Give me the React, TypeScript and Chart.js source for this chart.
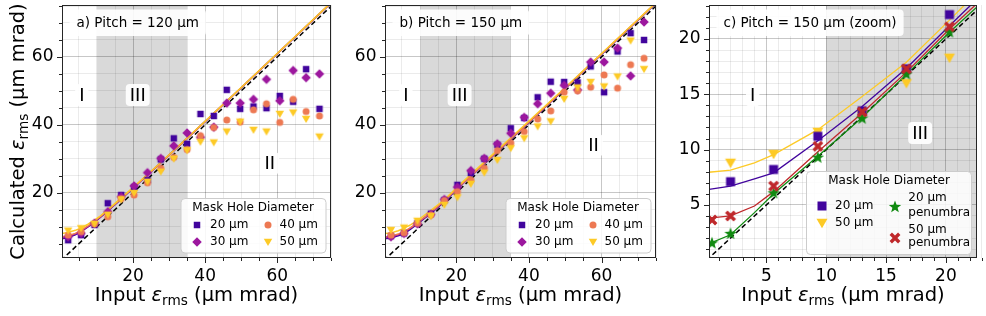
import React, { useEffect, useRef } from 'react';
import { Chart, registerables } from 'chart.js';

Chart.register(...registerables);

const FONT = '"DejaVu Sans", sans-serif';

// ---------------- data ----------------
const inputEmittance = [2.0, 5.6, 9.3, 13.0, 16.7, 20.3, 24.0, 27.7, 31.3, 35.0, 38.7, 42.4, 46.0, 49.7, 53.4, 57.0, 60.7, 64.4, 68.0, 71.7];

// a) Pitch = 120 µm
const p120_20um = [6.0, 7.5, 10.5, 16.9, 19.3, 21.6, 23.7, 29.8, 36.0, 34.4, 43.2, 42.6, 50.3, 44.7, 45.4, 44.9, 48.5, 46.8, 56.4, 44.7];
const p120_30um = [7.0, 8.0, 11.0, 14.4, 18.8, 22.0, 25.9, 30.1, 33.8, 37.6, 36.3, 39.3, 46.4, 46.4, 47.5, 53.4, 47.1, 56.0, 53.9, 55.0];
const p120_40um = [7.5, 8.5, 10.8, 12.9, 18.2, 19.3, 22.9, 27.2, 30.4, 32.7, 36.8, 39.2, 41.4, 40.8, 44.4, 46.2, 40.7, 47.5, 43.9, 42.6];
const p120_50um = [8.8, 9.5, 10.8, 13.5, 18.0, 19.9, 23.2, 26.2, 30.0, 32.5, 35.0, 34.8, 38.0, 40.9, 38.5, 38.0, 43.2, 43.6, 41.7, 36.5];

// b) Pitch = 150 µm
const p150_20um = [7.2, 8.0, 11.0, 13.8, 17.8, 22.3, 25.8, 30.0, 34.1, 39.0, 42.0, 48.1, 52.7, 52.6, 52.5, 57.2, 49.6, 61.6, 67.0, 65.0];
const p150_30um = [7.0, 8.0, 10.8, 13.6, 18.0, 21.6, 26.5, 30.1, 34.4, 37.5, 42.2, 46.2, 49.3, 51.6, 50.3, 58.5, 58.5, 62.6, 54.4, 70.3];
const p150_40um = [7.5, 8.2, 11.0, 13.4, 17.7, 20.3, 23.7, 27.2, 32.4, 34.6, 38.0, 41.7, 44.1, 49.6, 50.0, 51.1, 54.7, 50.8, 57.7, 59.6];
const p150_50um = [9.0, 9.7, 11.7, 13.1, 16.4, 18.6, 22.6, 25.9, 29.6, 33.1, 36.0, 39.5, 41.0, 47.6, 51.0, 52.6, 51.3, 54.2, 64.8, 56.4];

// fitted curves (a, b)
const fitX = [0.3, 2.0, 4.0, 5.6, 7.5, 9.3, 11.0, 13.0, 16.7, 20.3, 27.7, 35.0, 50.0, 75.0];
const fitA20 = [6.4, 6.8, 7.6, 8.5, 9.9, 11.3, 12.8, 14.6, 18.1, 21.6, 28.8, 36.0, 50.9, 76.0];
const fitA30 = [6.7, 7.1, 7.8, 8.7, 10.0, 11.4, 12.9, 14.7, 18.2, 21.6, 28.8, 36.0, 50.9, 76.0];
const fitA40 = [7.0, 7.3, 8.0, 8.9, 10.2, 11.5, 13.0, 14.8, 18.2, 21.7, 28.8, 36.0, 50.9, 76.0];
const fitA50 = [8.0, 8.3, 8.9, 9.6, 10.7, 11.9, 13.2, 15.0, 18.4, 21.8, 28.9, 36.1, 51.0, 76.1];
const fitB20 = [6.4, 6.7, 7.3, 7.9, 9.3, 10.8, 12.3, 13.9, 17.35, 21.2, 28.5, 35.7, 50.7, 75.8];
const fitB30 = [6.7, 7.0, 7.6, 8.3, 9.6, 11.0, 12.5, 14.1, 17.5, 21.3, 28.6, 35.8, 50.8, 75.9];
const fitB40 = [6.9, 7.2, 7.8, 8.5, 9.8, 11.1, 12.6, 14.2, 17.6, 21.3, 28.6, 35.8, 50.8, 75.9];
const fitB50 = [7.95, 8.15, 8.8, 9.55, 10.6, 11.8, 13.2, 14.8, 17.9, 21.7, 29.0, 36.2, 51.0, 76.0];

// c) Pitch = 150 µm (zoom)
const zoomX = [2.0, 5.6, 9.3, 13.0, 16.7, 20.3];
const zoomPenX = [0.45, 2.0, 5.6, 9.3, 13.0, 16.7, 20.3];
const zoom20um = [7.1, 8.2, 11.2, 13.5, 17.3, 22.2];
const zoom50um = [8.8, 9.6, 11.6, 13.1, 16.0, 18.3];
const zoom20umPen = [1.53, 2.38, 6.05, 9.27, 12.8, 16.8, 20.6];
const zoom50umPen = [3.64, 4.0, 6.7, 10.3, 13.4, 17.3, 21.1];
const fitZoomX = [0.2, 2.0, 4.0, 5.6, 9.3, 13.0, 16.7, 20.3, 22.6];
const fitZoom20 = [6.4, 6.7, 7.35, 7.9, 10.8, 13.9, 17.35, 21.2, 23.6];
const fitZoom50 = [7.95, 8.15, 8.8, 9.55, 11.8, 14.8, 17.9, 21.7, 24.2];
const fitZoom20Pen = [1.5, 2.3, 4.3, 6.0, 9.4, 12.9, 16.8, 20.6, 22.9];
const fitZoom50Pen = [3.8, 4.0, 4.9, 6.2, 9.8, 13.3, 17.0, 20.9, 23.2];

const identityLine = [0, 80];

// ticks
const ticksAB = [5, 10, 15, 20, 25, 30, 35, 40, 45, 50, 55, 60, 65, 70, 75];
const labelsAB = [20, 40, 60];
const ticksC = [1, 2, 3, 4, 5, 6, 7, 8, 9, 10, 11, 12, 13, 14, 15, 16, 17, 18, 19, 20, 21, 22, 23];
const labelsC = [5, 10, 15, 20];

// colours
const C20 = '#41049d';
const C30 = '#9c179e';
const C40 = '#ed7953';
const C50 = '#fdca26';
const CPEN20 = '#108a10';
const CPEN50 = '#bf282b';

// ---------------- helpers ----------------
type Pt = { x: number; y: number };
const pts = (xs: number[], ys: number[]): Pt[] => ys.map((y, i) => ({ x: xs[i], y }));

function makeMarker(shape: string, color: string, size: number): HTMLCanvasElement {
  let dim = Math.ceil(size * 1.6) + 4;
  if (dim % 2) dim += 1;
  const cv = document.createElement('canvas');
  cv.width = dim;
  cv.height = dim;
  const g = cv.getContext('2d')!;
  g.translate(dim / 2, dim / 2);
  g.fillStyle = color;
  const r = size / 2;
  g.beginPath();
  if (shape === 'square') {
    g.rect(-r, -r, size, size);
  } else if (shape === 'diamond') {
    g.moveTo(0, -r); g.lineTo(r, 0); g.lineTo(0, r); g.lineTo(-r, 0); g.closePath();
  } else if (shape === 'circle') {
    g.arc(0, 0, r, 0, Math.PI * 2);
  } else if (shape === 'triangleDown') {
    g.moveTo(-r, -r * 0.78); g.lineTo(r, -r * 0.78); g.lineTo(0, r * 0.95); g.closePath();
  } else if (shape === 'star') {
    for (let i = 0; i < 10; i++) {
      const a = -Math.PI / 2 + (i * Math.PI) / 5;
      const rr = i % 2 === 0 ? r : r * 0.42;
      const px = rr * Math.cos(a);
      const py = rr * Math.sin(a);
      if (i === 0) g.moveTo(px, py); else g.lineTo(px, py);
    }
    g.closePath();
  } else if (shape === 'x') {
    g.rotate(Math.PI / 4);
    const w = r * 0.34;
    const L = r * 1.2;
    const P = [[-w, -L], [w, -L], [w, -w], [L, -w], [L, w], [w, w], [w, L], [-w, L], [-w, w], [-L, w], [-L, -w], [-w, -w]];
    P.forEach(([px, py], i) => (i ? g.lineTo(px, py) : g.moveTo(px, py)));
    g.closePath();
  }
  g.fill();
  return cv;
}

function roundRect(ctx: CanvasRenderingContext2D, x: number, y: number, w: number, h: number, r: number) {
  ctx.beginPath();
  ctx.moveTo(x + r, y);
  ctx.lineTo(x + w - r, y);
  ctx.arcTo(x + w, y, x + w, y + r, r);
  ctx.lineTo(x + w, y + h - r);
  ctx.arcTo(x + w, y + h, x + w - r, y + h, r);
  ctx.lineTo(x + r, y + h);
  ctx.arcTo(x, y + h, x, y + h - r, r);
  ctx.lineTo(x, y + r);
  ctx.arcTo(x, y, x + r, y, r);
  ctx.closePath();
}

function drawEmittanceTitle(ctx: CanvasRenderingContext2D, prefix: string, cx: number, cy: number, vertical: boolean) {
  const size = 19.5;
  const parts = [
    { t: prefix, f: `${size}px ${FONT}`, dy: 0 },
    { t: 'ε', f: `italic ${size}px ${FONT}`, dy: 0 },
    { t: 'rms', f: `${size * 0.7}px ${FONT}`, dy: size * 0.22 },
    { t: ' (µm mrad)', f: `${size}px ${FONT}`, dy: 0 },
  ];
  ctx.save();
  ctx.translate(cx, cy);
  if (vertical) ctx.rotate(-Math.PI / 2);
  let total = 0;
  const widths = parts.map((p) => {
    ctx.font = p.f;
    const w = ctx.measureText(p.t).width;
    total += w;
    return w;
  });
  let x = -total / 2;
  ctx.fillStyle = '#000';
  ctx.textBaseline = 'alphabetic';
  ctx.textAlign = 'left';
  parts.forEach((p, i) => {
    ctx.font = p.f;
    ctx.fillText(p.t, x, p.dy);
    x += widths[i];
  });
  ctx.restore();
}

interface LegendItem { marker: HTMLCanvasElement; mx: number; my: number; lines: { t: string; x: number; y: number }[] }
interface Panel {
  area: { left: number; right: number; top: number; bottom: number };
  xr: [number, number];
  yr: [number, number];
  xTicks: number[];
  yTicks: number[];
  xLabels: number[];
  yLabels: number[];
  shade: [number, number];
  datasets: any[];
  tag: string;
  yTitle: boolean;
  regions: { t: string; x: number; y: number }[];
  legend: { box: [number, number, number, number]; title: [number, number]; items: LegendItem[] };
}

function scatterDs(xs: number[], ys: number[], marker: HTMLCanvasElement, order: number) {
  return { data: pts(xs, ys), pointStyle: marker, pointRadius: 4, showLine: false, order };
}
function lineDs(xs: number[], ys: number[], color: string, width: number, order: number, dash?: number[]) {
  return {
    data: pts(xs, ys),
    showLine: true,
    borderColor: color,
    backgroundColor: color,
    borderWidth: width,
    borderDash: dash || [],
    pointRadius: 0,
    fill: false,
    tension: 0,
    order,
  };
}

function axisOpts(range: [number, number], ticks: number[], labels: number[], horiz: boolean) {
  return {
    type: 'linear',
    min: range[0],
    max: range[1],
    afterBuildTicks: (s: any) => {
      s.ticks = ticks.map((v) => ({ value: v }));
    },
    afterFit: (s: any) => {
      if (horiz) s.height = 40;
      else s.width = 50;
      s.paddingTop = 0;
      s.paddingBottom = 0;
      s.paddingLeft = 0;
      s.paddingRight = 0;
    },
    ticks: {
      autoSkip: false,
      maxRotation: 0,
      minRotation: 0,
      padding: horiz ? 8 : 8.5,
      color: '#000',
      font: { family: FONT, size: 17 },
      callback: (v: any) => (labels.includes(v) ? String(v) : ''),
    },
    grid: {
      drawTicks: false,
      lineWidth: 1,
      color: (c: any) => (c.tick && labels.includes(c.tick.value) ? 'rgba(0,0,0,0.22)' : 'rgba(0,0,0,0.08)'),
    },
    border: { display: false },
  };
}

function panelPlugin(p: Panel) {
  return {
    id: 'panelDecor',
    beforeDraw(chart: any) {
      const { ctx, chartArea: ca, scales } = chart;
      ctx.save();
      ctx.fillStyle = '#d9d9d9';
      const x0 = Math.max(scales.x.getPixelForValue(p.shade[0]), ca.left);
      const x1 = Math.min(scales.x.getPixelForValue(p.shade[1]), ca.right);
      ctx.fillRect(x0, ca.top, x1 - x0, ca.bottom - ca.top);
      ctx.restore();
    },
    afterDraw(chart: any) {
      const { ctx, chartArea: ca, scales } = chart;
      ctx.save();
      // region labels
      ctx.font = `18px ${FONT}`;
      ctx.textAlign = 'center';
      ctx.textBaseline = 'middle';
      p.regions.forEach((r) => {
        const px = scales.x.getPixelForValue(r.x);
        const py = scales.y.getPixelForValue(r.y);
        const w = ctx.measureText(r.t).width + 8;
        ctx.fillStyle = 'rgba(255,255,255,0.92)';
        roundRect(ctx, px - w / 2, py - 11, w, 22, 4);
        ctx.fill();
        ctx.fillStyle = '#000';
        ctx.fillText(r.t, px, py + 1);
      });
      // tag box
      ctx.font = `13.5px ${FONT}`;
      ctx.textAlign = 'left';
      const tw = ctx.measureText(p.tag).width;
      const tx = ca.left + 14.5;
      ctx.fillStyle = 'rgba(255,255,255,0.9)';
      roundRect(ctx, tx - 7, 9.5, tw + 14, 26.5, 4);
      ctx.fill();
      ctx.fillStyle = '#000';
      ctx.fillText(p.tag, tx, 23);
      // legend
      ctx.font = `12px ${FONT}`;
      const [bx, by, bw, bh] = p.legend.box;
      ctx.fillStyle = 'rgba(255,255,255,0.85)';
      ctx.strokeStyle = '#cccccc';
      ctx.lineWidth = 1;
      roundRect(ctx, bx + 0.5, by + 0.5, bw, bh, 4);
      ctx.fill();
      ctx.stroke();
      ctx.fillStyle = '#000';
      ctx.textAlign = 'center';
      ctx.fillText('Mask Hole Diameter', p.legend.title[0], p.legend.title[1]);
      ctx.textAlign = 'left';
      p.legend.items.forEach((it) => {
        ctx.drawImage(it.marker, Math.round(it.mx - it.marker.width / 2), Math.round(it.my - it.marker.height / 2));
        it.lines.forEach((l) => ctx.fillText(l.t, l.x, l.y));
      });
      // frame
      ctx.strokeStyle = '#262626';
      ctx.lineWidth = 1;
      ctx.strokeRect(ca.left + 0.5, ca.top + 0.5, ca.right - ca.left - 1, ca.bottom - ca.top - 1);
      // tick marks
      ctx.beginPath();
      scales.x.ticks.forEach((t: any) => {
        const px = Math.round(scales.x.getPixelForValue(t.value)) + 0.5;
        const len = p.xLabels.includes(t.value) ? 5 : 3;
        ctx.moveTo(px, ca.bottom);
        ctx.lineTo(px, ca.bottom + len);
      });
      scales.y.ticks.forEach((t: any) => {
        const py = Math.round(scales.y.getPixelForValue(t.value)) + 0.5;
        const len = p.yLabels.includes(t.value) ? 5 : 3;
        ctx.moveTo(ca.left, py);
        ctx.lineTo(ca.left - len, py);
      });
      ctx.stroke();
      // axis titles
      drawEmittanceTitle(ctx, 'Input ', (ca.left + ca.right) / 2, 301, false);
      if (p.yTitle) drawEmittanceTitle(ctx, 'Calculated ', 24, (ca.top + ca.bottom) / 2, true);
      ctx.restore();
    },
  };
}

function buildConfig(p: Panel): any {
  const a = p.area;
  return {
    type: 'scatter',
    data: { datasets: p.datasets },
    options: {
      responsive: false,
      animation: false,
      events: [],
      layout: {
        autoPadding: false,
        padding: { left: a.left - 50, right: 986 - a.right, top: a.top, bottom: 316 - a.bottom - 40 },
      },
      plugins: { legend: { display: false }, tooltip: { enabled: false } },
      scales: {
        x: axisOpts(p.xr, p.xTicks, p.xLabels, true),
        y: axisOpts(p.yr, p.yTicks, p.yLabels, false),
      },
    },
    plugins: [panelPlugin(p)],
  };
}

function abLegend(left: number, m: Record<string, HTMLCanvasElement>): Panel['legend'] {
  const top = 198;
  return {
    box: [left, top, 145, 54.5],
    title: [left + 72.5, top + 10],
    items: [
      { marker: m.s20, mx: left + 16.5, my: top + 26.5, lines: [{ t: '20 µm', x: left + 29.5, y: top + 26.5 }] },
      { marker: m.s30, mx: left + 16.5, my: top + 44, lines: [{ t: '30 µm', x: left + 29.5, y: top + 44 }] },
      { marker: m.s40, mx: left + 87, my: top + 26.5, lines: [{ t: '40 µm', x: left + 99, y: top + 26.5 }] },
      { marker: m.s50, mx: left + 87, my: top + 44, lines: [{ t: '50 µm', x: left + 99, y: top + 44 }] },
    ],
  };
}

function buildPanels(): Panel[] {
  const m = {
    s20: makeMarker('square', C20, 6.5),
    s30: makeMarker('diamond', C30, 9.5),
    s40: makeMarker('circle', C40, 7),
    s50: makeMarker('triangleDown', C50, 8.5),
  };
  const mc = {
    s20: makeMarker('square', C20, 9),
    s50: makeMarker('triangleDown', C50, 11),
    p20: makeMarker('star', CPEN20, 13),
    p50: makeMarker('x', CPEN50, 10),
  };

  const panelA: Panel = {
    area: { left: 62, right: 331, top: 5, bottom: 258 },
    xr: [0.3, 74.9],
    yr: [0.75, 75.3],
    xTicks: ticksAB, yTicks: ticksAB, xLabels: labelsAB, yLabels: labelsAB,
    shade: [10, 35],
    tag: 'a) Pitch = 120 µm',
    yTitle: true,
    regions: [{ t: 'I', x: 5.8, y: 48.8 }, { t: 'III', x: 21.3, y: 48.8 }, { t: 'II', x: 57.9, y: 28.7 }],
    legend: abLegend(180.5, m),
    datasets: [
      lineDs(identityLine, identityLine, '#000', 1.5, 40, [5, 3]),
      lineDs(fitX, fitA20, C20, 1.5, 34),
      lineDs(fitX, fitA30, C30, 1.5, 33),
      lineDs(fitX, fitA40, C40, 1.5, 32),
      lineDs(fitX, fitA50, C50, 1.5, 31),
      scatterDs(inputEmittance, p120_20um, m.s20, 14),
      scatterDs(inputEmittance, p120_30um, m.s30, 13),
      scatterDs(inputEmittance, p120_40um, m.s40, 12),
      scatterDs(inputEmittance, p120_50um, m.s50, 11),
    ],
  };
  const panelB: Panel = {
    area: { left: 385, right: 656, top: 5, bottom: 258 },
    xr: [0.35, 75],
    yr: [0.75, 75.3],
    xTicks: ticksAB, yTicks: ticksAB, xLabels: labelsAB, yLabels: labelsAB,
    shade: [10, 35],
    tag: 'b) Pitch = 150 µm',
    yTitle: false,
    regions: [{ t: 'I', x: 6.1, y: 48.8 }, { t: 'III', x: 20.9, y: 48.8 }, { t: 'II', x: 57.8, y: 34.0 }],
    legend: abLegend(505.5, m),
    datasets: [
      lineDs(identityLine, identityLine, '#000', 1.5, 40, [5, 3]),
      lineDs(fitX, fitB20, C20, 1.5, 34),
      lineDs(fitX, fitB30, C30, 1.5, 33),
      lineDs(fitX, fitB40, C40, 1.5, 32),
      lineDs(fitX, fitB50, C50, 1.5, 31),
      scatterDs(inputEmittance, p150_20um, m.s20, 14),
      scatterDs(inputEmittance, p150_30um, m.s30, 13),
      scatterDs(inputEmittance, p150_40um, m.s40, 12),
      scatterDs(inputEmittance, p150_50um, m.s50, 11),
    ],
  };
  const cl = 806;
  const ct = 171;
  const panelC: Panel = {
    area: { left: 709, right: 977, top: 5, bottom: 258 },
    xr: [0.2, 22.6],
    yr: [0.2, 23.07],
    xTicks: ticksC, yTicks: ticksC, xLabels: labelsC, yLabels: labelsC,
    shade: [10, 22.6],
    tag: 'c) Pitch = 150 µm (zoom)',
    yTitle: false,
    regions: [{ t: 'I', x: 3.85, y: 14.9 }, { t: 'III', x: 17.85, y: 11.5 }],
    legend: {
      box: [cl, ct, 165, 83],
      title: [cl + 83, ct + 10],
      items: [
        { marker: mc.s20, mx: cl + 15.7, my: ct + 35, lines: [{ t: '20 µm', x: cl + 29, y: ct + 35 }] },
        { marker: mc.s50, mx: cl + 15.7, my: ct + 52, lines: [{ t: '50 µm', x: cl + 29, y: ct + 52 }] },
        {
          marker: mc.p20, mx: cl + 89, my: ct + 35.7,
          lines: [{ t: '20 µm', x: cl + 102.3, y: ct + 26.5 }, { t: 'penumbra', x: cl + 102.3, y: ct + 41.5 }],
        },
        {
          marker: mc.p50, mx: cl + 89, my: ct + 67,
          lines: [{ t: '50 µm', x: cl + 102.3, y: ct + 58.5 }, { t: 'penumbra', x: cl + 102.3, y: ct + 72 }],
        },
      ],
    },
    datasets: [
      lineDs(identityLine, identityLine, '#000', 1.5, 40, [5, 3]),
      lineDs(fitZoomX, fitZoom50, C50, 1.3, 34),
      lineDs(fitZoomX, fitZoom20, C20, 1.3, 33),
      lineDs(fitZoomX, fitZoom50Pen, CPEN50, 1.3, 32),
      lineDs(fitZoomX, fitZoom20Pen, CPEN20, 1.3, 31),
      scatterDs(zoomX, zoom50um, mc.s50, 14),
      scatterDs(zoomX, zoom20um, mc.s20, 13),
      scatterDs(zoomPenX, zoom20umPen, mc.p20, 12),
      scatterDs(zoomPenX, zoom50umPen, mc.p50, 11),
    ],
  };
  return [panelA, panelB, panelC];
}

export default function App() {
  const r0 = useRef<HTMLCanvasElement>(null);
  const r1 = useRef<HTMLCanvasElement>(null);
  const r2 = useRef<HTMLCanvasElement>(null);
  useEffect(() => {
    Chart.defaults.font.family = FONT;
    const panels = buildPanels();
    const refs = [r0, r1, r2];
    const charts = panels.map((p, i) => new Chart(refs[i].current as HTMLCanvasElement, buildConfig(p)));
    return () => charts.forEach((c) => c.destroy());
  }, []);
  const cs: React.CSSProperties = { position: 'absolute', left: 0, top: 0 };
  return (
    <div style={{ position: 'absolute', left: 0, top: 0, width: 986, height: 316, background: '#fff', overflow: 'hidden' }}>
      <canvas ref={r0} width={986} height={316} style={cs} />
      <canvas ref={r1} width={986} height={316} style={cs} />
      <canvas ref={r2} width={986} height={316} style={cs} />
    </div>
  );
}
